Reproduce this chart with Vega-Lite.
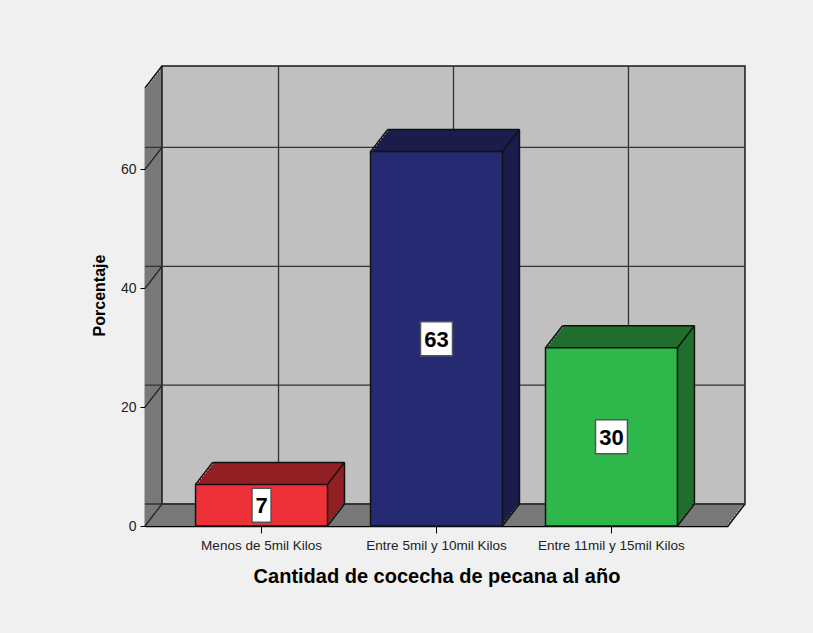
{
  "$schema": "https://vega.github.io/schema/vega-lite/v6.json",
  "width": 583,
  "height": 438,
  "autosize": {"type": "none"},
  "padding": {"left": 145, "top": 88, "right": 85, "bottom": 107},
  "background": "#F0F0F0",
  "config": {
    "view": {"stroke": null},
    "font": "Liberation Sans",
    "axisY": {"domainColor": "black", "domainWidth": 1.5, "tickColor": "black", "tickSize": 5, "labelFont": "Liberation Sans", "labelFontSize": 14, "labelColor": "#222222", "titleFont": "Liberation Sans", "titleFontSize": 16, "titleFontWeight": "bold", "titleColor": "black", "grid": false, "titlePadding": 13, "labelPadding": 4, "titleY": 207},
    "axisX": {"domainColor": "black", "domainWidth": 1.5, "tickColor": "black", "tickSize": 7, "labelFont": "Liberation Sans", "labelFontSize": 13.5, "labelColor": "#222222", "labelAngle": 0, "titleFont": "Liberation Sans", "titleFontSize": 20, "titleFontWeight": "bold", "titleColor": "black", "titlePadding": 15, "labelPadding": 5, "grid": false}
  },
  "datasets": {
    "cosecha": [
      {"cat": "Menos de 5mil Kilos", "pct": 7},
      {"cat": "Entre 5mil y 10mil Kilos", "pct": 63},
      {"cat": "Entre 11mil y 15mil Kilos", "pct": 30}
    ],
    "ticks": [{"v": 0}, {"v": 20}, {"v": 40}, {"v": 60}],
    "one": [{"wall": "fondo"}]
  },
  "layer": [
    {
      "layer": [
        {"data": {"name": "one"}, "mark": {"type": "rect", "fill": "#787878"}, "encoding": {"x": {"value": 0}, "x2": {"value": "width"}, "y": {"value": 0}, "y2": {"value": "height"}}},
        {"data": {"name": "one"}, "mark": {"type": "rect", "fill": "#787878", "xOffset": 2.125, "x2Offset": 2.125, "yOffset": -2.75, "y2Offset": -2.75}, "encoding": {"x": {"value": 0}, "x2": {"value": "width"}, "y": {"value": 0}, "y2": {"value": "height"}}},
        {"data": {"name": "one"}, "mark": {"type": "rect", "fill": "#787878", "xOffset": 4.25, "x2Offset": 4.25, "yOffset": -5.5, "y2Offset": -5.5}, "encoding": {"x": {"value": 0}, "x2": {"value": "width"}, "y": {"value": 0}, "y2": {"value": "height"}}},
        {"data": {"name": "one"}, "mark": {"type": "rect", "fill": "#787878", "xOffset": 6.375, "x2Offset": 6.375, "yOffset": -8.25, "y2Offset": -8.25}, "encoding": {"x": {"value": 0}, "x2": {"value": "width"}, "y": {"value": 0}, "y2": {"value": "height"}}},
        {"data": {"name": "one"}, "mark": {"type": "rect", "fill": "#787878", "xOffset": 8.5, "x2Offset": 8.5, "yOffset": -11, "y2Offset": -11}, "encoding": {"x": {"value": 0}, "x2": {"value": "width"}, "y": {"value": 0}, "y2": {"value": "height"}}},
        {"data": {"name": "one"}, "mark": {"type": "rect", "fill": "#787878", "xOffset": 10.625, "x2Offset": 10.625, "yOffset": -13.75, "y2Offset": -13.75}, "encoding": {"x": {"value": 0}, "x2": {"value": "width"}, "y": {"value": 0}, "y2": {"value": "height"}}},
        {"data": {"name": "one"}, "mark": {"type": "rect", "fill": "#787878", "xOffset": 12.75, "x2Offset": 12.75, "yOffset": -16.5, "y2Offset": -16.5}, "encoding": {"x": {"value": 0}, "x2": {"value": "width"}, "y": {"value": 0}, "y2": {"value": "height"}}},
        {"data": {"name": "one"}, "mark": {"type": "rect", "fill": "#787878", "xOffset": 14.875, "x2Offset": 14.875, "yOffset": -19.25, "y2Offset": -19.25}, "encoding": {"x": {"value": 0}, "x2": {"value": "width"}, "y": {"value": 0}, "y2": {"value": "height"}}},
        {"data": {"name": "one"}, "mark": {"type": "rect", "fill": "#C0C0C0", "stroke": "#1A1A1A", "strokeWidth": 1.5, "xOffset": 17, "x2Offset": 17, "yOffset": -22, "y2Offset": -22}, "encoding": {"x": {"value": 0}, "x2": {"value": "width"}, "y": {"value": 0}, "y2": {"value": "height"}}},
        {"data": {"name": "one"}, "mark": {"type": "rule", "color": "#111111", "strokeWidth": 1.5, "x2Offset": 17, "y2Offset": -22}, "encoding": {"x": {"value": 0}, "x2": {"value": 0}, "y": {"value": 0}, "y2": {"value": 0}}},
        {"data": {"name": "one"}, "mark": {"type": "rule", "color": "#111111", "strokeWidth": 1.5, "x2Offset": 17, "y2Offset": -22}, "encoding": {"x": {"value": "width"}, "x2": {"value": "width"}, "y": {"value": "height"}, "y2": {"value": "height"}}},
        {"data": {"name": "ticks"}, "mark": {"type": "rule", "color": "#222222", "strokeWidth": 1.3, "x2Offset": 17, "y2Offset": -22}, "encoding": {"x": {"value": 0}, "x2": {"value": 0}, "y": {"field": "v", "type": "quantitative", "scale": {"domain": [0, 73.7], "nice": false}, "axis": {"title": "Porcentaje", "values": [0, 20, 40, 60]}}, "y2": {"field": "v"}}},
        {"data": {"name": "ticks"}, "mark": {"type": "rule", "color": "#333333", "strokeWidth": 1.3, "xOffset": 17, "x2Offset": 17, "yOffset": -22}, "encoding": {"y": {"field": "v", "type": "quantitative", "axis": {"title": "Porcentaje", "values": [0, 20, 40, 60]}}}},
        {"data": {"name": "cosecha"}, "mark": {"type": "rule", "color": "#333333", "strokeWidth": 1.3, "xOffset": 17, "yOffset": -22, "y2Offset": -22}, "encoding": {"x": {"field": "cat", "type": "nominal", "scale": {"domain": ["Menos de 5mil Kilos", "Entre 5mil y 10mil Kilos", "Entre 11mil y 15mil Kilos"], "paddingInner": 0.246, "paddingOuter": 0.289}, "axis": {"title": "Cantidad de cocecha de pecana al año"}}}},
        {"data": {"name": "cosecha"}, "mark": {"type": "bar", "xOffset": 2.125, "yOffset": -2.75}, "encoding": {"x": {"field": "cat", "type": "nominal", "axis": {"title": "Cantidad de cocecha de pecana al año"}}, "y": {"field": "pct", "type": "quantitative", "axis": {"title": "Porcentaje", "values": [0, 20, 40, 60]}}, "fill": {"field": "cat", "type": "nominal", "scale": {"domain": ["Menos de 5mil Kilos", "Entre 5mil y 10mil Kilos", "Entre 11mil y 15mil Kilos"], "range": ["#921F23", "#1B1C4B", "#1F6E2C"]}, "legend": null}}},
        {"data": {"name": "cosecha"}, "mark": {"type": "bar", "xOffset": 4.25, "yOffset": -5.5}, "encoding": {"x": {"field": "cat", "type": "nominal", "axis": {"title": "Cantidad de cocecha de pecana al año"}}, "y": {"field": "pct", "type": "quantitative", "axis": {"title": "Porcentaje", "values": [0, 20, 40, 60]}}, "fill": {"field": "cat", "type": "nominal", "legend": null}}},
        {"data": {"name": "cosecha"}, "mark": {"type": "bar", "xOffset": 6.375, "yOffset": -8.25}, "encoding": {"x": {"field": "cat", "type": "nominal", "axis": {"title": "Cantidad de cocecha de pecana al año"}}, "y": {"field": "pct", "type": "quantitative", "axis": {"title": "Porcentaje", "values": [0, 20, 40, 60]}}, "fill": {"field": "cat", "type": "nominal", "legend": null}}},
        {"data": {"name": "cosecha"}, "mark": {"type": "bar", "xOffset": 8.5, "yOffset": -11}, "encoding": {"x": {"field": "cat", "type": "nominal", "axis": {"title": "Cantidad de cocecha de pecana al año"}}, "y": {"field": "pct", "type": "quantitative", "axis": {"title": "Porcentaje", "values": [0, 20, 40, 60]}}, "fill": {"field": "cat", "type": "nominal", "legend": null}}},
        {"data": {"name": "cosecha"}, "mark": {"type": "bar", "xOffset": 10.625, "yOffset": -13.75}, "encoding": {"x": {"field": "cat", "type": "nominal", "axis": {"title": "Cantidad de cocecha de pecana al año"}}, "y": {"field": "pct", "type": "quantitative", "axis": {"title": "Porcentaje", "values": [0, 20, 40, 60]}}, "fill": {"field": "cat", "type": "nominal", "legend": null}}},
        {"data": {"name": "cosecha"}, "mark": {"type": "bar", "xOffset": 12.75, "yOffset": -16.5}, "encoding": {"x": {"field": "cat", "type": "nominal", "axis": {"title": "Cantidad de cocecha de pecana al año"}}, "y": {"field": "pct", "type": "quantitative", "axis": {"title": "Porcentaje", "values": [0, 20, 40, 60]}}, "fill": {"field": "cat", "type": "nominal", "legend": null}}},
        {"data": {"name": "cosecha"}, "mark": {"type": "bar", "xOffset": 14.875, "yOffset": -19.25}, "encoding": {"x": {"field": "cat", "type": "nominal", "axis": {"title": "Cantidad de cocecha de pecana al año"}}, "y": {"field": "pct", "type": "quantitative", "axis": {"title": "Porcentaje", "values": [0, 20, 40, 60]}}, "fill": {"field": "cat", "type": "nominal", "legend": null}}},
        {"data": {"name": "cosecha"}, "mark": {"type": "bar", "xOffset": 17, "yOffset": -22}, "encoding": {"x": {"field": "cat", "type": "nominal", "axis": {"title": "Cantidad de cocecha de pecana al año"}}, "y": {"field": "pct", "type": "quantitative", "axis": {"title": "Porcentaje", "values": [0, 20, 40, 60]}}, "fill": {"field": "cat", "type": "nominal", "legend": null}}},
        {"data": {"name": "cosecha"}, "mark": {"type": "bar", "stroke": "#111111", "strokeWidth": 1.5}, "encoding": {
          "x": {"field": "cat", "type": "nominal", "axis": {"title": "Cantidad de cocecha de pecana al año"}},
          "y": {"field": "pct", "type": "quantitative", "axis": {"title": "Porcentaje", "values": [0, 20, 40, 60]}},
          "color": {"field": "cat", "type": "nominal", "scale": {"domain": ["Menos de 5mil Kilos", "Entre 5mil y 10mil Kilos", "Entre 11mil y 15mil Kilos"], "range": ["#EE3139", "#262A72", "#2EB74A"]}, "legend": null}
        }},
        {"data": {"name": "cosecha"}, "mark": {"type": "rule", "color": "#111111", "strokeWidth": 1.5, "x2Offset": 17, "y2Offset": -22}, "encoding": {"x": {"field": "cat", "type": "nominal", "bandPosition": 0, "axis": {"title": "Cantidad de cocecha de pecana al año"}}, "x2": {"field": "cat", "bandPosition": 0}, "y": {"field": "pct", "type": "quantitative", "axis": {"title": "Porcentaje", "values": [0, 20, 40, 60]}}, "y2": {"field": "pct"}}},
        {"data": {"name": "cosecha"}, "mark": {"type": "rule", "color": "#111111", "strokeWidth": 1.5, "x2Offset": 17, "y2Offset": -22}, "encoding": {"x": {"field": "cat", "type": "nominal", "bandPosition": 1, "axis": {"title": "Cantidad de cocecha de pecana al año"}}, "x2": {"field": "cat", "bandPosition": 1}, "y": {"field": "pct", "type": "quantitative", "axis": {"title": "Porcentaje", "values": [0, 20, 40, 60]}}, "y2": {"field": "pct"}}},
        {"data": {"name": "cosecha"}, "mark": {"type": "rule", "color": "#111111", "strokeWidth": 1.5, "x2Offset": 17, "y2Offset": -22}, "encoding": {"x": {"field": "cat", "type": "nominal", "bandPosition": 1, "axis": {"title": "Cantidad de cocecha de pecana al año"}}, "x2": {"field": "cat", "bandPosition": 1}, "y": {"datum": 0, "type": "quantitative", "axis": {"title": "Porcentaje", "values": [0, 20, 40, 60]}}, "y2": {"datum": 0}}},
        {"data": {"name": "cosecha"}, "mark": {"type": "rule", "color": "#111111", "strokeWidth": 1.5, "xOffset": 17, "x2Offset": 17, "yOffset": -22, "y2Offset": -22}, "encoding": {"x": {"field": "cat", "type": "nominal", "bandPosition": 0, "axis": {"title": "Cantidad de cocecha de pecana al año"}}, "x2": {"field": "cat", "bandPosition": 1}, "y": {"field": "pct", "type": "quantitative", "axis": {"title": "Porcentaje", "values": [0, 20, 40, 60]}}, "y2": {"field": "pct"}}},
        {"data": {"name": "cosecha"}, "mark": {"type": "rule", "color": "#111111", "strokeWidth": 1.5, "xOffset": 17, "x2Offset": 17, "yOffset": -22, "y2Offset": -22}, "encoding": {"x": {"field": "cat", "type": "nominal", "bandPosition": 1, "axis": {"title": "Cantidad de cocecha de pecana al año"}}, "x2": {"field": "cat", "bandPosition": 1}, "y": {"field": "pct", "type": "quantitative", "axis": {"title": "Porcentaje", "values": [0, 20, 40, 60]}}, "y2": {"datum": 0}}}
      ]
    },
    {
      "layer": [
        {"data": {"name": "cosecha"}, "mark": {"type": "point", "filled": true, "color": "white", "stroke": "#555555", "strokeWidth": 1.5, "opacity": 1, "size": 1156}, "encoding": {
          "x": {"field": "cat", "type": "nominal", "axis": {"title": "Cantidad de cocecha de pecana al año"}},
          "y": {"field": "pct", "type": "quantitative", "scale": {"domain": [0, 147.4], "nice": false}, "axis": null},
          "shape": {"condition": {"test": "datum.pct < 10", "value": "M-0.56,-1L0.56,-1L0.56,1L-0.56,1Z"}, "value": "M-0.94,-1L0.94,-1L0.94,1L-0.94,1Z"}
        }},
        {"data": {"name": "cosecha"}, "mark": {"type": "text", "font": "Liberation Sans", "fontWeight": "bold", "fontSize": 22, "color": "black", "baseline": "middle", "dy": 1}, "encoding": {
          "x": {"field": "cat", "type": "nominal", "axis": {"title": "Cantidad de cocecha de pecana al año"}},
          "y": {"field": "pct", "type": "quantitative", "scale": {"domain": [0, 147.4], "nice": false}, "axis": null},
          "text": {"field": "pct", "type": "quantitative"}
        }}
      ]
    }
  ],
  "resolve": {"scale": {"y": "independent"}}
}
